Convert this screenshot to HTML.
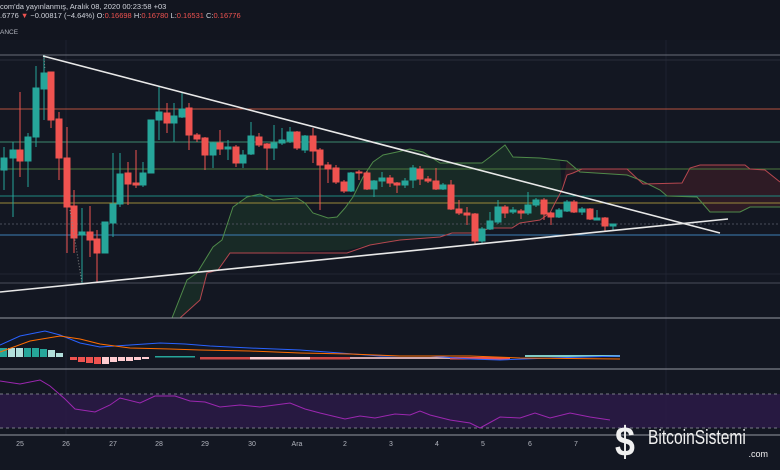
<!DOCTYPE html>
<html><head><meta charset="utf-8"><style>
html,body{margin:0;padding:0;background:#131722;}
svg{display:block;font-family:"Liberation Sans",sans-serif;}
</style></head><body>
<svg width="780" height="470" viewBox="0 0 780 470" xmlns="http://www.w3.org/2000/svg">
<rect width="780" height="470" fill="#131722"/>
<rect width="780" height="40" fill="#12151f"/>
<text x="0" y="9" fill="#d1d4dc" font-size="7.5">com'da yayınlanmış, Aralık 08, 2020 00:23:58 +03</text>
<text x="0" y="18" fill="#d1d4dc" font-size="7.5">.6776 <tspan fill="#ef5350">▼</tspan> −0.00817 (−4.64%) O:<tspan fill="#ef5350">0.16698</tspan> H:<tspan fill="#ef5350">0.16780</tspan> L:<tspan fill="#ef5350">0.16531</tspan> C:<tspan fill="#ef5350">0.16776</tspan></text>
<text x="0" y="34" fill="#b2b5be" font-size="6.5">ANCE</text>
<g stroke="#1e2230" stroke-width="1">
<line x1="66" y1="40" x2="66" y2="435"/><line x1="666" y1="40" x2="666" y2="435"/>
</g>
<path d="M172,318 L187,280 L197,273 L213,247 L222,240 L233,207 L247,197 L260,194 L273,200 L297,198 L305,203 L313,213 L328,218 L337,217 L345,208 L353,197 L363,177 L373,162 L383,155 L397,152 L410,149 L423,152 L440,163 L482,163 L490,157 L505,145 L513,157 L540,158 L560,161 L562,190 L555,203 L550,213 L540,220 L520,223 L512,228 L490,228 L477,233 L452,233 L440,237 L400,240 L370,245 L347,250 L250,253 L230,253 L218,270 L207,273 L200,300 L180,318 Z" fill="#1e3a2a" opacity="0.55"/>
<path d="M562,190 L567,175 L573,173 L582,169 L627,169 L643,184 L682,183 L690,168 L700,165 L745,165 L750,169 L765,170 L780,182 L780,207 L750,207 L740,212 L710,212 L697,197 L667,196 L660,190 L640,180 L627,175 L580,172 L567,161 Z" fill="#3a1e26" opacity="0.7"/>
<g stroke-width="1" fill="none">
<line x1="0" y1="55" x2="780" y2="55" stroke="#6a6d78"/>
<line x1="0" y1="60" x2="780" y2="60" stroke="#2a2e39"/>
<line x1="0" y1="109" x2="780" y2="109" stroke="#b5523f"/>
<line x1="0" y1="142" x2="780" y2="142" stroke="#3d8a6e"/>
<line x1="0" y1="169" x2="780" y2="169" stroke="#4d7a3f"/>
<line x1="0" y1="196" x2="780" y2="196" stroke="#1f8a80"/>
<line x1="0" y1="203" x2="780" y2="203" stroke="#9a8a3a"/>
<line x1="0" y1="224" x2="780" y2="224" stroke="#4a4e59" stroke-dasharray="2,2"/>
<line x1="0" y1="235" x2="780" y2="235" stroke="#3d7fb5"/>
<line x1="0" y1="274" x2="780" y2="274" stroke="#222632"/>
<line x1="0" y1="283" x2="780" y2="283" stroke="#4a4e59"/>
</g>
<polyline fill="none" stroke="#4f8a4a" stroke-width="1" points="172,318 187,280 197,273 213,247 222,240 233,207 247,197 260,194 273,200 297,198 305,203 313,213 328,218 337,217 345,208 353,197 363,177 373,162 383,155 397,152 410,149 423,152 440,163 482,163 490,157 505,145 513,157 540,158 567,161 580,172 627,175 640,180 660,190 667,196 697,197 710,212 740,212 750,207 780,207"/>
<polyline fill="none" stroke="#b5474f" stroke-width="1" points="180,318 200,300 207,273 218,270 230,253 347,253 370,245 400,240 440,237 452,233 477,233 490,228 512,228 520,223 540,220 550,213 555,203 562,190 567,175 573,173 582,169 627,169 643,184 682,183 690,168 700,165 745,165 750,169 765,170 780,182"/>
<g stroke-width="1">
<g stroke="#26a69a" fill="#26a69a">
<line x1="4" y1="147" x2="4" y2="190"/><rect x="1" y="158" width="6" height="12"/>
<line x1="13" y1="142" x2="13" y2="217"/><rect x="10" y="150" width="6" height="8"/>
<line x1="28" y1="133" x2="28" y2="187"/><rect x="25" y="137" width="6" height="24"/>
<line x1="36" y1="66" x2="36" y2="147"/><rect x="33" y="88" width="6" height="49"/>
<line x1="44" y1="55" x2="44" y2="120"/><rect x="41" y="73" width="6" height="16"/>
<line x1="82" y1="208" x2="82" y2="283"/><rect x="79" y="232" width="6" height="3"/>
<line x1="105" y1="222" x2="105" y2="253"/><rect x="102" y="222" width="6" height="31"/>
<line x1="113" y1="153" x2="113" y2="237"/><rect x="110" y="204" width="6" height="19"/>
<line x1="120" y1="153" x2="120" y2="207"/><rect x="117" y="174" width="6" height="30"/>
<line x1="143" y1="162" x2="143" y2="187"/><rect x="140" y="173" width="6" height="12"/>
<rect x="148" y="120" width="6" height="53"/>
<line x1="159" y1="87" x2="159" y2="140"/><rect x="156" y="112" width="6" height="8"/>
<line x1="174" y1="103" x2="174" y2="142"/><rect x="171" y="116" width="6" height="7"/>
<line x1="182" y1="93" x2="182" y2="118"/><rect x="179" y="109" width="6" height="8"/>
<line x1="213" y1="142" x2="213" y2="168"/><rect x="210" y="143" width="6" height="12"/>
<line x1="228" y1="140" x2="228" y2="160"/><rect x="225" y="147" width="6" height="2"/>
<line x1="243" y1="150" x2="243" y2="168"/><rect x="240" y="155" width="6" height="8"/>
<line x1="251" y1="122" x2="251" y2="155"/><rect x="248" y="136" width="6" height="18"/>
<line x1="274" y1="125" x2="274" y2="160"/><rect x="271" y="143" width="6" height="5"/>
<line x1="282" y1="128" x2="282" y2="145"/><rect x="279" y="140" width="6" height="3"/>
<line x1="290" y1="127" x2="290" y2="143"/><rect x="287" y="132" width="6" height="9"/>
<line x1="305" y1="135" x2="305" y2="153"/><rect x="302" y="136" width="6" height="14"/>
<line x1="351" y1="172" x2="351" y2="192"/><rect x="348" y="173" width="6" height="18"/>
<line x1="374" y1="180" x2="374" y2="197"/><rect x="371" y="181" width="6" height="8"/>
<line x1="382" y1="172" x2="382" y2="187"/><rect x="379" y="178" width="6" height="3"/>
<line x1="405" y1="178" x2="405" y2="188"/><rect x="402" y="181" width="6" height="4"/>
<line x1="413" y1="165" x2="413" y2="188"/><rect x="410" y="168" width="6" height="12"/>
<line x1="443" y1="183" x2="443" y2="190"/><rect x="440" y="185" width="6" height="4"/>
<line x1="482" y1="227" x2="482" y2="244"/><rect x="479" y="229" width="6" height="12"/>
<line x1="490" y1="212" x2="490" y2="230"/><rect x="487" y="221" width="6" height="8"/>
<line x1="498" y1="200" x2="498" y2="224"/><rect x="495" y="207" width="6" height="15"/>
<line x1="513" y1="207" x2="513" y2="214"/><rect x="510" y="210" width="6" height="2"/>
<line x1="528" y1="192" x2="528" y2="215"/><rect x="525" y="205" width="6" height="8"/>
<line x1="536" y1="198" x2="536" y2="207"/><rect x="533" y="200" width="6" height="5"/>
<line x1="559" y1="208" x2="559" y2="218"/><rect x="556" y="210" width="6" height="7"/>
<line x1="567" y1="200" x2="567" y2="212"/><rect x="564" y="202" width="6" height="9"/>
<line x1="582" y1="207" x2="582" y2="215"/><rect x="579" y="209" width="6" height="3"/>
<line x1="597" y1="210" x2="597" y2="220"/><rect x="594" y="218" width="6" height="2"/>
<line x1="613" y1="224" x2="613" y2="230"/><rect x="610" y="224" width="6" height="2"/>
</g>
<g stroke="#ef5350" fill="#ef5350">
<line x1="20" y1="92" x2="20" y2="177"/><rect x="17" y="150" width="6" height="11"/>
<line x1="51" y1="72" x2="51" y2="128"/><rect x="48" y="72" width="6" height="48"/>
<line x1="59" y1="112" x2="59" y2="180"/><rect x="56" y="119" width="6" height="39"/>
<line x1="67" y1="127" x2="67" y2="253"/><rect x="64" y="158" width="6" height="49"/>
<line x1="74" y1="190" x2="74" y2="253"/><rect x="71" y="206" width="6" height="32"/>
<line x1="90" y1="206" x2="90" y2="257"/><rect x="87" y="232" width="6" height="8"/>
<line x1="97" y1="230" x2="97" y2="283"/><rect x="94" y="239" width="6" height="14"/>
<line x1="128" y1="162" x2="128" y2="205"/><rect x="125" y="173" width="6" height="11"/>
<line x1="136" y1="150" x2="136" y2="188"/><rect x="133" y="183" width="6" height="2"/>
<line x1="167" y1="103" x2="167" y2="133"/><rect x="164" y="113" width="6" height="10"/>
<line x1="189" y1="103" x2="189" y2="150"/><rect x="186" y="108" width="6" height="27"/>
<line x1="197" y1="133" x2="197" y2="142"/><rect x="194" y="135" width="6" height="4"/>
<line x1="205" y1="137" x2="205" y2="170"/><rect x="202" y="138" width="6" height="17"/>
<line x1="220" y1="130" x2="220" y2="155"/><rect x="217" y="143" width="6" height="6"/>
<line x1="236" y1="145" x2="236" y2="167"/><rect x="233" y="147" width="6" height="16"/>
<line x1="259" y1="133" x2="259" y2="147"/><rect x="256" y="137" width="6" height="8"/>
<line x1="267" y1="143" x2="267" y2="170"/><rect x="264" y="144" width="6" height="4"/>
<line x1="297" y1="131" x2="297" y2="150"/><rect x="294" y="132" width="6" height="16"/>
<line x1="313" y1="128" x2="313" y2="163"/><rect x="310" y="136" width="6" height="15"/>
<line x1="320" y1="148" x2="320" y2="210"/><rect x="317" y="150" width="6" height="15"/>
<line x1="328" y1="162" x2="328" y2="183"/><rect x="325" y="165" width="6" height="4"/>
<line x1="336" y1="165" x2="336" y2="184"/><rect x="333" y="168" width="6" height="14"/>
<line x1="344" y1="180" x2="344" y2="193"/><rect x="341" y="182" width="6" height="9"/>
<line x1="359" y1="170" x2="359" y2="180"/><rect x="356" y="172" width="6" height="1"/>
<line x1="367" y1="171" x2="367" y2="190"/><rect x="364" y="173" width="6" height="16"/>
<line x1="390" y1="175" x2="390" y2="187"/><rect x="387" y="178" width="6" height="5"/>
<line x1="397" y1="182" x2="397" y2="193"/><rect x="394" y="183" width="6" height="2"/>
<line x1="420" y1="166" x2="420" y2="185"/><rect x="417" y="169" width="6" height="10"/>
<line x1="428" y1="176" x2="428" y2="183"/><rect x="425" y="179" width="6" height="2"/>
<line x1="436" y1="168" x2="436" y2="190"/><rect x="433" y="181" width="6" height="8"/>
<line x1="451" y1="180" x2="451" y2="210"/><rect x="448" y="185" width="6" height="24"/>
<line x1="459" y1="200" x2="459" y2="215"/><rect x="456" y="209" width="6" height="4"/>
<line x1="467" y1="207" x2="467" y2="225"/><rect x="464" y="213" width="6" height="2"/>
<line x1="475" y1="213" x2="475" y2="245"/><rect x="472" y="214" width="6" height="27"/>
<line x1="505" y1="205" x2="505" y2="218"/><rect x="502" y="207" width="6" height="6"/>
<line x1="521" y1="209" x2="521" y2="219"/><rect x="518" y="211" width="6" height="2"/>
<line x1="544" y1="198" x2="544" y2="220"/><rect x="541" y="200" width="6" height="14"/>
<line x1="551" y1="212" x2="551" y2="225"/><rect x="548" y="213" width="6" height="4"/>
<line x1="574" y1="200" x2="574" y2="213"/><rect x="571" y="202" width="6" height="10"/>
<line x1="590" y1="208" x2="590" y2="220"/><rect x="587" y="209" width="6" height="10"/>
<line x1="605" y1="217" x2="605" y2="232"/><rect x="602" y="218" width="6" height="8"/>
</g>
</g>
<line x1="43" y1="56" x2="720" y2="233" stroke="#e8e8e8" stroke-width="1.6"/>
<line x1="0" y1="292" x2="728" y2="219" stroke="#e8e8e8" stroke-width="1.6"/>
<line x1="44" y1="58" x2="45" y2="70" stroke="#888" stroke-dasharray="1,2"/>
<line x1="70" y1="210" x2="82" y2="283" stroke="#888" stroke-dasharray="1,2"/>
<line x1="0" y1="318" x2="780" y2="318" stroke="#9598a1" stroke-width="1"/>
<line x1="0" y1="369" x2="780" y2="369" stroke="#9598a1" stroke-width="1"/>
<line x1="0" y1="435" x2="780" y2="435" stroke="#9598a1" stroke-width="1"/>
<g>
<rect x="0" y="348" width="7" height="9" fill="#26a69a"/><rect x="8" y="348" width="7" height="9" fill="#b2dfdb"/><rect x="16" y="348" width="7" height="9" fill="#b2dfdb"/><rect x="24" y="348" width="7" height="9" fill="#26a69a"/><rect x="32" y="348" width="7" height="9" fill="#26a69a"/><rect x="40" y="349" width="7" height="8" fill="#26a69a"/><rect x="48" y="350" width="7" height="7" fill="#b2dfdb"/><rect x="56" y="353" width="7" height="4" fill="#b2dfdb"/>
<rect x="70" y="357" width="7" height="3" fill="#ef5350"/><rect x="78" y="357" width="7" height="5" fill="#ef5350"/><rect x="86" y="357" width="7" height="6" fill="#ef5350"/><rect x="94" y="357" width="7" height="7" fill="#ef5350"/><rect x="102" y="357" width="7" height="7" fill="#ffcdd2"/><rect x="110" y="357" width="7" height="5" fill="#ffcdd2"/><rect x="118" y="357" width="7" height="4" fill="#ffcdd2"/><rect x="126" y="357" width="7" height="4" fill="#ffcdd2"/><rect x="134" y="357" width="7" height="3" fill="#ffcdd2"/><rect x="142" y="357" width="7" height="2" fill="#ffcdd2"/>
<rect x="155" y="356" width="40" height="1.5" fill="#26a69a"/>
<rect x="200" y="357" width="150" height="2.5" fill="#ef5350" opacity="0.85"/>
<rect x="250" y="357" width="60" height="2.5" fill="#ffcdd2"/>
<rect x="350" y="357" width="100" height="2" fill="#ffcdd2" opacity="0.8"/>
<rect x="450" y="357" width="60" height="2.5" fill="#ef5350"/>
<rect x="525" y="355" width="95" height="2" fill="#80cbc4"/>
<polyline fill="none" stroke="#2962ff" stroke-width="1" points="0,345 20,336 45,331 60,335 80,343 100,347 130,345 160,343 185,344 210,346 250,348 300,350 340,353 380,356 430,356 470,359 500,360 550,358 620,356"/>
<polyline fill="none" stroke="#ff6d00" stroke-width="1" points="0,352 30,341 60,336 80,339 100,344 130,348 170,349 200,350 250,351 300,353 350,354 400,356 470,356 520,358 620,359"/>
</g>
<rect x="0" y="394" width="780" height="34" fill="#2a1a45" opacity="0.9"/>
<line x1="0" y1="394" x2="780" y2="394" stroke="#787b86" stroke-dasharray="3,3"/>
<line x1="0" y1="428" x2="780" y2="428" stroke="#787b86" stroke-dasharray="3,3"/>
<polyline fill="none" stroke="#9c27b0" stroke-width="1" points="0,381 20,384 40,380 50,386 65,399 75,409 95,412 110,405 120,398 140,403 155,396 175,396 190,401 205,402 220,407 240,405 260,407 290,403 305,409 320,413 345,419 360,416 375,418 395,414 410,415 420,411 430,415 450,420 470,423 480,428 500,417 520,418 535,413 550,418 570,413 590,417 610,420"/>
<g fill="#b2b5be" font-size="7" text-anchor="middle">
<text x="20" y="446">25</text><text x="66" y="446">26</text><text x="113" y="446">27</text><text x="159" y="446">28</text><text x="205" y="446">29</text><text x="252" y="446">30</text><text x="297" y="446">Ara</text><text x="345" y="446">2</text><text x="391" y="446">3</text><text x="437" y="446">4</text><text x="483" y="446">5</text><text x="530" y="446">6</text><text x="576" y="446">7</text>
</g>
<text x="615" y="456" fill="#f0f0f0" font-size="42" font-weight="bold" transform="translate(615 0) scale(0.85 1) translate(-615 0)">$</text>
<text x="648" y="444" fill="#f0f0f0" font-size="20" transform="translate(648 0) scale(0.78 1) translate(-648 0)">BitcoinSistemi</text>
<text x="768" y="457" fill="#f0f0f0" font-size="9" text-anchor="end">.com</text>
</svg>
</body></html>
